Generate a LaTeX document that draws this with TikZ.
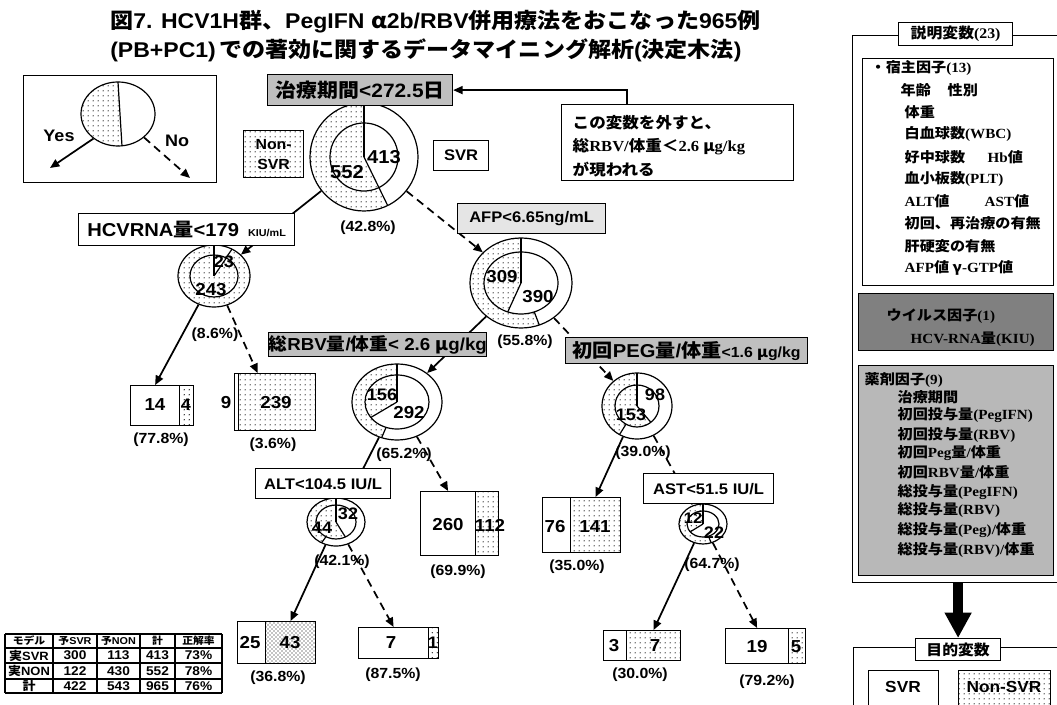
\documentclass[tikz,border=0pt]{standalone}
\usepackage{fontspec}
\setmainfont{Noto Sans CJK JP}[FakeStretch=1.08]
\newfontfamily\ar{Liberation Sans}[FakeStretch=1.08]
\newfontfamily\tm{Liberation Serif}[FakeStretch=1.08]
\usetikzlibrary{shapes.geometric,patterns,patterns.meta,arrows.meta,calc}
\tikzdeclarepattern{
  name=bigdots,
  type=uncolored,
  bounding box={(0pt,0pt) and (3.8pt,3.8pt)},
  tile size={(3.8pt,3.8pt)},
  code={\pgfpathcircle{\pgfpoint{1.9pt}{1.9pt}}{0.55pt}\pgfusepath{fill}}
}
\tikzset{
 fs/.style={font=\fontsize{#1}{#1}\selectfont\bfseries},
 fa/.style={font=\fontsize{#1}{#1}\selectfont\ar\bfseries},
 pl/.style={line width=0.9pt},
 box/.style={draw, line width=0.9pt, inner sep=0pt, anchor=north west, align=center},
 yarr/.style={line width=1.3pt, -{Triangle[length=7pt,width=6pt]}},
 narr/.style={yarr, dash pattern=on 6pt off 4pt},
 dotfill/.style={pattern=bigdots},
 densefill/.style={pattern=crosshatch dots},
}
\newcommand\bx[7]{\node[box,#6,minimum width={(#4-#2)*0.75pt},minimum height={(#5-#3)*0.75pt}] (#1) at (#2,-#3) {#7};}
\newcommand\pienode[9]{%
 \fill[white] (#2,-#3) ellipse [x radius=#4, y radius=#5];
 \fill[dotfill] (#2,-#3) -- ++(90:#4 and #5) arc[start angle=90, end angle={90+#8}, x radius=#4, y radius=#5] -- cycle;
 \filldraw[fill=white,pl] (#2,-#3) ellipse [x radius=#6, y radius=#7];
 \fill[dotfill] (#2,-#3) -- ++(90:#6 and #7) arc[start angle=90, end angle={90+#9}, x radius=#6, y radius=#7] -- cycle;
 \draw[pl] (#2,-#3) -- ++(90:#4 and #5);
 \draw[pl] (#2,-#3) -- ++({90+#9}:#6 and #7);
 \draw[pl] ($(#2,-#3)+({90+#8}:#6 and #7)$) -- ($(#2,-#3)+({90+#8}:#4 and #5)$);
 \node[draw,ellipse,pl,inner sep=0pt,minimum width={2*#4*0.75pt},minimum height={2*#5*0.75pt}] (#1) at (#2,-#3) {};
}
\newcommand\leaf[7]{% name x1 xm x2 y1 y2 rightstyle
 \bx{#1w}{#2}{#5}{#3}{#6}{fill=white}{}
 \bx{#1d}{#3}{#5}{#4}{#6}{#7}{}
}
\begin{document}
\begin{tikzpicture}[x=0.75pt,y=0.75pt]
\useasboundingbox (0,0) rectangle (1057,-705);
\clip (0,0) rectangle (1057,-705);

% title
\node[fs=16,anchor=west,inner sep=0pt] (title1) at (110,-22) {図{\ar 7. HCV1H}群、{\ar PegIFN }α{\ar 2b/RBV}併用療法をおこなった{\ar 965}例};
\node[fs=16,anchor=west,inner sep=0pt] (title2) at (110,-50) {{\ar (PB+PC1)\,}での著効に関するデータマイニング解析{\ar (}決定木法{\ar )}};

% legend
\bx{legbox}{23}{75}{216}{182}{fill=white}{}
\fill[dotfill] (118,-82) arc[start angle=90, end angle=276, x radius=37, y radius=32] -- cycle;
\draw[pl] (118,-82) -- (122,-146);
\node[draw,ellipse,pl,inner sep=0pt,minimum width=55.5pt,minimum height=48pt] (legc) at (118,-114) {};
\coordinate (yesend) at (50,-168);
\coordinate (noend) at (190,-178);
\draw[yarr] (legc.225) -- (yesend);
\draw[narr] (legc.-42) -- (noend);
\node[fa=12.5] (yes) at (59,-136) {Yes};
\node[fa=12.5] (no) at (177,-141) {No};

% pies
\pienode{root}{364}{157}{54}{54}{34}{34}{206}{206}
\pienode{hcv}{214}{276}{36}{31}{24}{21}{330}{329}
\pienode{afp}{521}{283}{51}{45}{37}{31}{201}{159}
\pienode{rbvp}{397}{402}{45}{38}{32}{27}{160}{125}
\pienode{pegp}{637}{406}{35}{33}{22}{21}{150}{219}
\pienode{altp}{336}{522}{29}{24}{20}{17}{150}{208}
\pienode{astp}{703}{524}{24}{20}{16}{13}{200}{127}

% leaves
\leaf{L1}{130}{179}{193}{385}{425}{dotfill}
\leaf{L2}{234}{238}{315}{373}{430}{dotfill}
\leaf{L3}{420}{475}{498}{491}{555}{dotfill}
\leaf{L4}{237}{265}{315}{621}{663}{densefill}
\leaf{L5}{358}{428}{438}{627}{658}{dotfill}
\leaf{L6}{542}{570}{620}{497}{552}{dotfill}
\leaf{L7}{603}{626}{680}{630}{660}{dotfill}
\leaf{L8}{725}{788}{805}{628}{663}{dotfill}

% connectors
\draw[yarr] (root) -- (hcv);
\draw[narr] (root) -- (afp);
\draw[yarr] (hcv) -- (L1w.north);
\draw[narr] (hcv) -- ($(L2d.north west)!0.25!(L2d.north east)$);
\draw[yarr] (afp) -- (rbvp);
\draw[narr] (afp) -- (pegp);
\draw[yarr] (rbvp) -- (altp);
\draw[narr] (rbvp) -- (L3w.north);
\draw[yarr] (altp) -- (L4d.north);
\draw[narr] (altp) -- (L5w.north);
\draw[yarr] (pegp) -- (L6d.north);
\draw[narr] (pegp) -- (astp);
\draw[yarr] (astp) -- (L7d.north);
\draw[narr] (astp) -- (L8w.north);

% condition boxes
\bx{lbl0}{267}{74}{452}{105}{fill=black!25,fs=14.5}{治療期間{\ar <272.5}日}
\bx{hcvlbl}{78}{213}{294}{245}{fill=white,fs=14}{{\ar HCVRNA}量{\ar <179}{\fontsize{7.5}{7.5}\selectfont\ar\ \ \ KIU/mL}}
\bx{afplbl}{457}{203}{605}{233}{fill=black!10,fa=11.5}{AFP<6.65ng/mL}
\bx{rbvlbl}{268}{332}{485}{356}{fill=black!25,fs=13}{総{\ar RBV}量{\ar /}体重{\ar < 2.6 }μ{\ar g/kg}}
\bx{peglbl}{565}{337}{807}{363}{fill=black!25,fs=14}{初回{\ar PEG}量{\ar /}体重{\fontsize{11}{11}\selectfont\ar <1.6 }{\fontsize{11}{11}\selectfont μ\ar g/kg}}
\bx{altlbl}{255}{468}{390}{498}{fill=white,fa=11.5}{ALT<104.5 IU/L}
\bx{astlbl}{643}{473}{773}{503}{fill=white,fa=11.5}{AST<51.5 IU/L}
\bx{nsvr}{243}{130}{303}{177}{dotfill,font=\fontsize{11}{15}\selectfont\ar\bfseries}{Non-\\SVR}
\bx{svr}{433}{140}{488}{170}{fill=white,fa=11.5}{SVR}

% explanation
\bx{expl}{561}{104}{793}{180}{fill=white,line width=0.6pt}{}
\node[anchor=west,align=left,font=\fontsize{11.5}{17.6}\selectfont\bfseries] (expltxt) at (568,-146) {この変数を外すと、\\総{\tm RBV/}体重＜{\tm 2.6 }μ{\tm g/kg}\\が現われる};
\draw[line width=1pt,-{Triangle[length=7pt,width=6pt]}] ($(expl.north west)+(66,0)$) |- (lbl0.east);

% numbers
\node[fa=14] (n1) at (384,-157) {413};
\node[fa=14] (n2) at (347,-172) {552};
\node[fa=11] (p1) at (368,-228) {(42.8\%)};
\node[fa=12.5] (n3) at (224,-262) {23};
\node[fa=13] (n4) at (211,-290) {243};
\node[fa=11] (p2) at (215,-335) {(8.6\%)};
\node[fa=13] (n5) at (502,-277) {309};
\node[fa=13] (n6) at (538,-297) {390};
\node[fa=11] (p3) at (525,-342) {(55.8\%)};
\node[fa=12.5] (n7) at (382,-395) {156};
\node[fa=13] (n8) at (409,-413) {292};
\node[fa=11] (p4) at (404,-455) {(65.2\%)};
\node[fa=12.5] (n9) at (655,-395) {98};
\node[fa=12.5] (n10) at (631,-415) {153};
\node[fa=11] (p5) at (643,-453) {(39.0\%)};
\node[fa=12.5] (n11) at (322,-528) {44};
\node[fa=12.5] (n12) at (348,-514) {32};
\node[fa=11] (p6) at (342,-562) {(42.1\%)};
\node[fa=11.5] (n13) at (693,-518) {12};
\node[fa=12.5] (n14) at (714,-533) {22};
\node[fa=11] (p7) at (712,-565) {(64.7\%)};
% leaf numbers
\node[fa=13] (m1) at (155,-405) {14};
\node[fa=12.5] (m2) at (186,-405) {4};
\node[fa=11] (q1) at (161,-440) {(77.8\%)};
\node[fa=13] (m3) at (226,-403) {9};
\node[fa=13] (m4) at (276,-403) {239};
\node[fa=11] (q2) at (273,-445) {(3.6\%)};
\node[fa=13] (m5) at (448,-525) {260};
\node[fa=13] (m6) at (490,-525) {112};
\node[fa=11] (q3) at (458,-572) {(69.9\%)};
\node[fa=13] (m7) at (250,-643) {25};
\node[fa=13] (m8) at (290,-643) {43};
\node[fa=11] (q4) at (278,-678) {(36.8\%)};
\node[fa=13] (m9) at (391,-643) {7};
\node[fa=12.5] (m10) at (433,-643) {1};
\node[fa=11] (q5) at (393,-675) {(87.5\%)};
\node[fa=13] (m11) at (555,-527) {76};
\node[fa=13] (m12) at (595,-527) {141};
\node[fa=11] (q6) at (577,-567) {(35.0\%)};
\node[fa=13] (m13) at (614,-646) {3};
\node[fa=13] (m14) at (655,-646) {7};
\node[fa=11] (q7) at (640,-675) {(30.0\%)};
\node[fa=13] (m15) at (757,-647) {19};
\node[fa=13] (m16) at (796,-647) {5};
\node[fa=11] (q8) at (767,-682) {(79.2\%)};

% table
\foreach \yy in {634,648,663,679,693} \draw[line width=1pt] (5,-\yy) -- (222,-\yy);
\foreach \xx in {5,53,97,140,175,222} \draw[line width=1pt] (\xx,-634) -- (\xx,-693);
\foreach \t/\xx [count=\i] in {{モデル}/29,{予{\ar SVR}}/75,{予{\ar NON}}/118.5,{計}/157.5,{正解率}/198.5}
  \node[fs=7.5] (th\i) at (\xx,-641) {\t};
\foreach \a/\b/\c/\d/\e/\yy [count=\i] in {{実{\ar SVR}}/300/113/413/{73\%}/655.5, {実{\ar NON}}/122/430/552/{78\%}/671, {計}/422/543/965/{76\%}/686}{
  \node[fs=9] (ta\i) at (29,-\yy) {\a};
  \node[fa=9.5] (tb\i) at (75,-\yy) {\b};
  \node[fa=9.5] (tc\i) at (118.5,-\yy) {\c};
  \node[fa=9.5] (td\i) at (157.5,-\yy) {\d};
  \node[fa=9.5] (te\i) at (198.5,-\yy) {\e};
}

% right panel
\bx{frame1}{852}{35}{1070}{582}{fill=white}{}
\bx{hostbox}{862}{58}{1053}{285}{fill=white,line width=0.6pt}{}
\bx{virbox}{858}{293}{1053}{350}{fill=black!50}{}
\bx{drugbox}{858}{365}{1053}{575}{fill=black!28}{}
\bx{ttlbox1}{898}{22}{1012}{45}{fill=white,fs=11}{説明変数{\tm (23)}}
\foreach \t/\xx/\yy [count=\i] in {{・宿主因子{\tm (13)}}/866/68, {年齢}/896/90, {性別}/943/90, {体重}/900/112, {白血球数{\tm (WBC)}}/900/134, {好中球数}/900/157, {{\tm Hb}値}/983/157, {血小板数{\tm (PLT)}}/900/179, {{\tm ALT}値}/900/201, {{\tm AST}値}/980/201, {初回、再治療の有無}/900/223, {肝硬変の有無}/900/246, {{\tm AFP}値 γ{\tm -GTP}値}/900/268}
  \node[fs=10.5,anchor=west] (h\i) at (\xx,-\yy) {\t};
\node[fs=10.5,anchor=west] (v1) at (882,-316) {ウイルス因子{\tm (1)}};
\node[fs=10.5,anchor=west] (v2) at (906,-339) {{\tm HCV-RNA}量{\tm (KIU)}};
\foreach \t/\xx/\yy [count=\i] in {{薬剤因子{\tm (9)}}/860/380, {治療期間}/893/397, {初回投与量{\tm (PegIFN)}}/893/415, {初回投与量{\tm (RBV)}}/893/435, {初回{\tm Peg}量{\tm /}体重}/893/453, {初回{\tm RBV}量{\tm /}体重}/893/472, {総投与量{\tm (PegIFN)}}/893/492, {総投与量{\tm (RBV)}}/893/510, {総投与量{\tm (Peg)/}体重}/893/530, {総投与量{\tm (RBV)/}体重}/893/550}
  \node[fs=10.5,anchor=west] (d\i) at (\xx,-\yy) {\t};
\bx{frame2}{853}{647}{1070}{720}{fill=white}{}
\bx{ttlbox2}{915}{638}{1000}{660}{fill=white,fs=11}{目的変数}
\draw[line width=7pt,-{Triangle[length=19pt,width=19pt]}] (frame1.south -| ttlbox2.north) -- (ttlbox2.north);
\bx{svrbox}{868}{670}{938}{720}{fill=white}{}
\bx{nsvrbox}{958}{670}{1050}{720}{dotfill}{}
\node[fa=12] (svrt) at (903,-687) {SVR};
\node[fa=12] (nsvrt) at (1004,-687) {Non-SVR};
\end{tikzpicture}
\end{document}
